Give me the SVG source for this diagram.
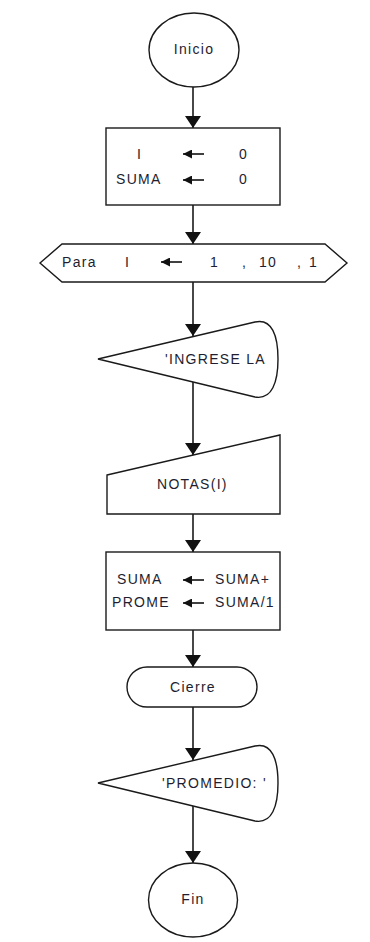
<svg xmlns="http://www.w3.org/2000/svg" width="370" height="942" viewBox="0 0 370 942">
  <style>
    .shape { fill: #ffffff; stroke: #1a1a1a; stroke-width: 1.4; }
    .link { fill: none; stroke: #1a1a1a; stroke-width: 1.6; }
    .lbl { font-family: "Liberation Sans", Arial, sans-serif; font-size: 14px; letter-spacing: 1.3px; fill: #1e1e30; }
    .mid { text-anchor: middle; }
    .asg { fill: none; stroke: #111; stroke-width: 1.6; }
  </style>
  <defs>
    <!-- downward flow arrowhead, tip at the end point -->
    <marker id="head" viewBox="0 0 16 12" refX="8" refY="12" markerWidth="16" markerHeight="12" markerUnits="userSpaceOnUse" orient="0">
      <path d="M0,0 L16,0 L8,12 Z" fill="#111"/>
    </marker>
    <!-- left-pointing assignment arrowhead -->
    <marker id="larrow" viewBox="0 0 9 9" refX="0" refY="4.5" markerWidth="9" markerHeight="9" markerUnits="userSpaceOnUse" orient="0">
      <path d="M0,4.5 L9,0 L9,9 Z" fill="#111"/>
    </marker>
  </defs>

  <!-- flow connectors -->
  <g id="connectors">
    <line class="link" x1="193" y1="87" x2="193" y2="128" marker-end="url(#head)"/>
    <line class="link" x1="193" y1="205" x2="193" y2="244" marker-end="url(#head)"/>
    <line class="link" x1="193" y1="282" x2="193" y2="336" marker-end="url(#head)"/>
    <line class="link" x1="193" y1="382" x2="193" y2="455" marker-end="url(#head)"/>
    <line class="link" x1="193" y1="514" x2="193" y2="552" marker-end="url(#head)"/>
    <line class="link" x1="193" y1="630" x2="193" y2="667" marker-end="url(#head)"/>
    <line class="link" x1="193" y1="707" x2="193" y2="760" marker-end="url(#head)"/>
    <line class="link" x1="193" y1="806" x2="193" y2="863" marker-end="url(#head)"/>
  </g>

  <g id="inicio">
    <ellipse class="shape" cx="194" cy="50" rx="45" ry="37"/>
    <text class="lbl mid" x="194" y="54">Inicio</text>
  </g>

  <g id="init">
    <rect class="shape" x="106" y="128" width="174" height="77"/>
    <text class="lbl" x="137" y="159">I</text>
    <line class="asg" x1="183" y1="154" x2="204" y2="154" marker-start="url(#larrow)"/>
    <text class="lbl" x="239" y="159">0</text>
    <text class="lbl" x="116" y="184">SUMA</text>
    <line class="asg" x1="183" y1="180" x2="204" y2="180" marker-start="url(#larrow)"/>
    <text class="lbl" x="239" y="184">0</text>
  </g>

  <g id="para">
    <path class="shape" d="M40,263 L62,244 L325,244 L347,263 L325,282 L62,282 Z"/>
    <text class="lbl" x="62" y="267">Para</text>
    <text class="lbl" x="125" y="267">I</text>
    <line class="asg" x1="161" y1="262" x2="182" y2="262" marker-start="url(#larrow)"/>
    <text class="lbl" x="210" y="267">1</text>
    <text class="lbl" x="242" y="267">,</text>
    <text class="lbl" x="259" y="267">10</text>
    <text class="lbl" x="297" y="267">,</text>
    <text class="lbl" x="309" y="267">1</text>
  </g>

  <g id="mensaje">
    <path class="shape" d="M98,359 L255,322 C272,318 278,336 278,359 C278,382 272,400 255,397 Z"/>
    <text class="lbl" x="165" y="364">'INGRESE LA</text>
  </g>

  <g id="leer">
    <path class="shape" d="M107,475 L280,435 L280,514 L107,514 Z"/>
    <text class="lbl" x="157" y="489">NOTAS(I)</text>
  </g>

  <g id="calculo">
    <rect class="shape" x="106" y="552" width="174" height="78"/>
    <text class="lbl" x="117" y="584">SUMA</text>
    <line class="asg" x1="183" y1="580" x2="204" y2="580" marker-start="url(#larrow)"/>
    <text class="lbl" x="215" y="584">SUMA+</text>
    <text class="lbl" x="112" y="607">PROME</text>
    <line class="asg" x1="183" y1="603" x2="204" y2="603" marker-start="url(#larrow)"/>
    <text class="lbl" x="215" y="607">SUMA/1</text>
  </g>

  <g id="cierre">
    <rect class="shape" x="127" y="667" width="130" height="40" rx="20" ry="20"/>
    <text class="lbl mid" x="193" y="692">Cierre</text>
  </g>

  <g id="promedio">
    <path class="shape" d="M98,783 L255,746 C272,742 278,760 278,783 C278,806 272,824 255,821 Z"/>
    <text class="lbl" x="162" y="788">'PROMEDIO: '</text>
  </g>

  <g id="fin">
    <ellipse class="shape" cx="193" cy="900" rx="44.5" ry="37"/>
    <text class="lbl mid" x="193" y="904">Fin</text>
  </g>
</svg>
